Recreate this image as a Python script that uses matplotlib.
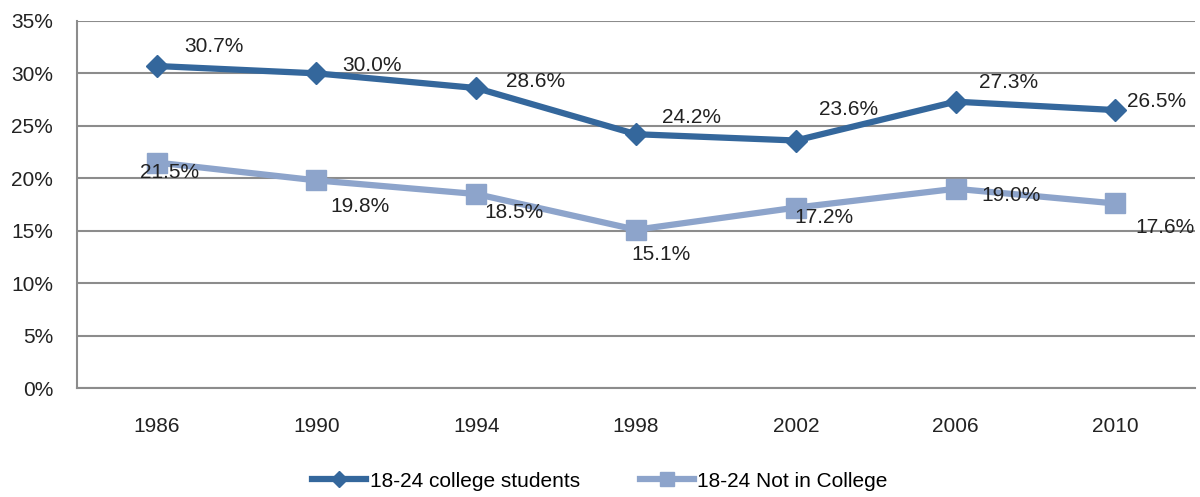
import numpy as np
import matplotlib.pyplot as plt
from matplotlib.ticker import FuncFormatter

years = ['1986', '1990', '1994', '1998', '2002', '2006', '2010']
college = [30.7, 30.0, 28.6, 24.2, 23.6, 27.3, 26.5]
not_college = [21.5, 19.8, 18.5, 15.1, 17.2, 19.0, 17.6]

# label offsets in points (hand placed like the original)
college_off = [(41, 14), (40, 6), (43, 5), (40, 12), (38, 22), (38, 14), (30, 6)]
not_college_off = [(9, -7), (31, -19), (27, -13), (18, -18), (20, -7), (40, -5), (36, -17)]

plt.rcParams['font.family'] = ['Liberation Sans', 'DejaVu Sans']

dark = '#34679c'
light = '#8da4cb'

fig = plt.figure(figsize=(12, 4.97), dpi=100)
ax = fig.add_axes([0.064, 0.219, 0.932, 0.739])

x = np.arange(len(years))
ax.plot(x, college, color=dark, lw=4.5, marker='D', ms=11, label='18-24 college students', zorder=3)
ax.plot(x, not_college, color=light, lw=4.5, marker='s', ms=14, label='18-24 Not in College', zorder=3)

for i in range(len(x)):
    ax.annotate(f'{college[i]:.1f}%', (x[i], college[i]), xytext=college_off[i],
                textcoords='offset points', ha='center', va='center', fontsize=15, color='#222222')
    ax.annotate(f'{not_college[i]:.1f}%', (x[i], not_college[i]), xytext=not_college_off[i],
                textcoords='offset points', ha='center', va='center', fontsize=15, color='#222222')

ax.set_xlim(-0.5, 6.5)
ax.set_ylim(0, 35)
ax.set_yticks(np.arange(0, 36, 5))
ax.yaxis.set_major_formatter(FuncFormatter(lambda v, p: f'{v:.0f}%'))
ax.set_xticks(x)
ax.set_xticklabels(years)
ax.tick_params(axis='both', length=0, labelsize=15, colors='#222222')
ax.tick_params(axis='x', pad=21)
ax.tick_params(axis='y', pad=17)
ax.grid(axis='y', color='#8c8c8c', lw=1.5)
ax.set_axisbelow(True)
for s in ['top', 'right']:
    ax.spines[s].set_visible(False)
for s in ['left', 'bottom']:
    ax.spines[s].set_color('#8c8c8c')
    ax.spines[s].set_linewidth(1.5)

leg = fig.legend(loc='lower center', bbox_to_anchor=(0.5, -0.025), ncol=2, frameon=False,
                 fontsize=15, handlelength=2.6, handletextpad=0.15, columnspacing=2.9,
                 markerscale=0.7)

fig.savefig('out.png', dpi=100)
